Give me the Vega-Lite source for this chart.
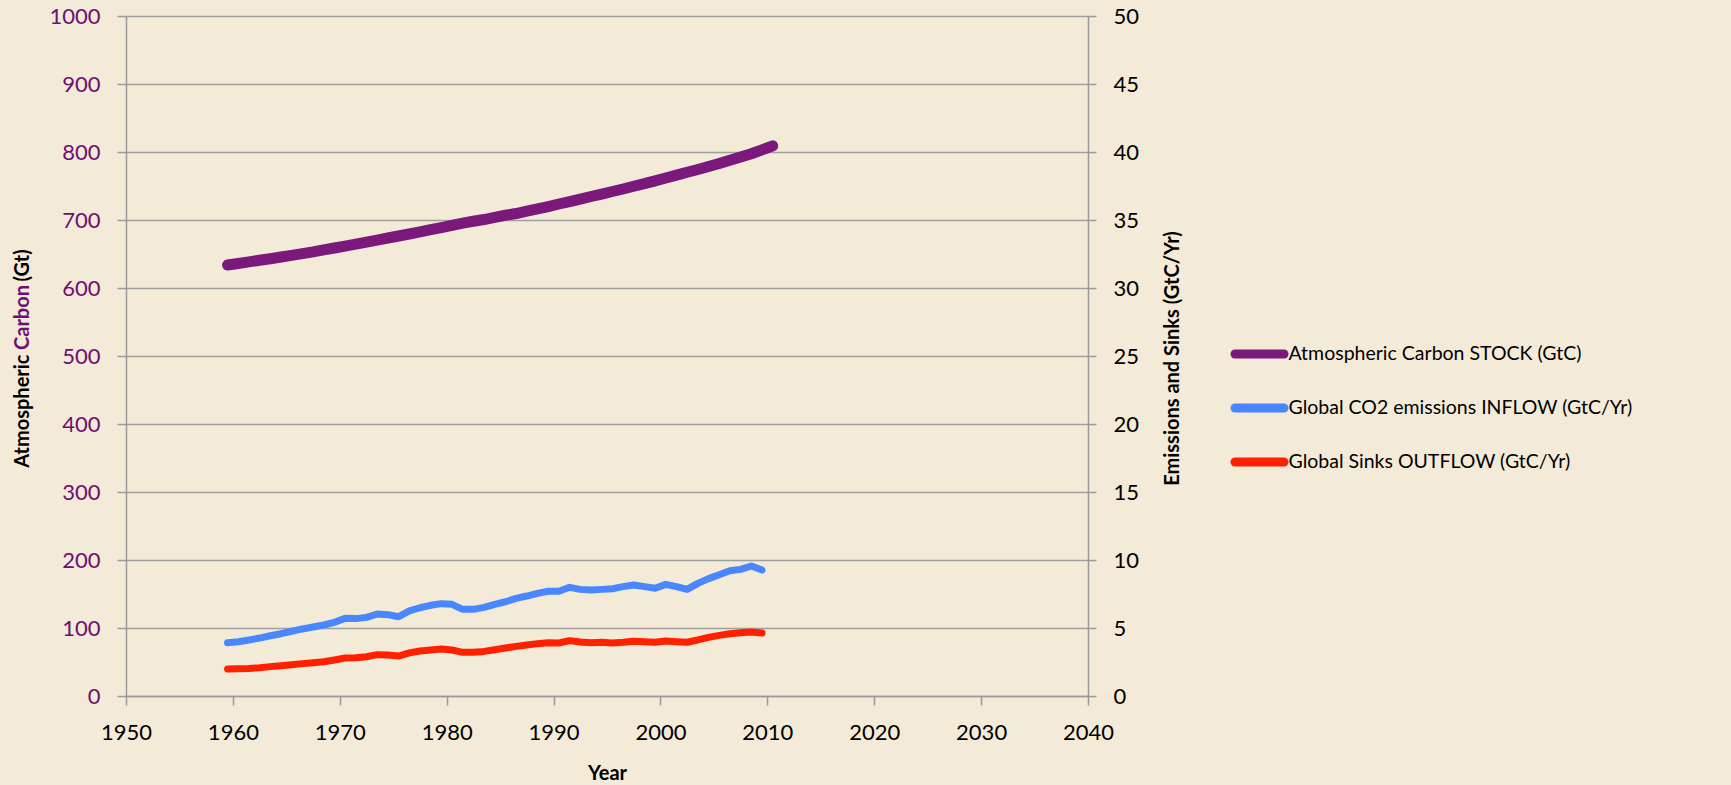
{
  "$schema": "https://vega.github.io/schema/vega-lite/v6.json",
  "width": 962,
  "height": 680,
  "autosize": "none",
  "padding": {"left": 126, "top": 16, "right": 643, "bottom": 89},
  "background": "#f3ead7",
  "config": {"view": {"stroke": null}, "font": "Lato"},
  "datasets": {
    "flows": [
      {"Year": 1959.5, "series": "Global CO2 emissions INFLOW (GtC/Yr)", "value": 3.92},
      {"Year": 1960.5, "series": "Global CO2 emissions INFLOW (GtC/Yr)", "value": 3.99},
      {"Year": 1961.5, "series": "Global CO2 emissions INFLOW (GtC/Yr)", "value": 4.12},
      {"Year": 1962.5, "series": "Global CO2 emissions INFLOW (GtC/Yr)", "value": 4.26},
      {"Year": 1963.5, "series": "Global CO2 emissions INFLOW (GtC/Yr)", "value": 4.43},
      {"Year": 1964.5, "series": "Global CO2 emissions INFLOW (GtC/Yr)", "value": 4.58},
      {"Year": 1965.5, "series": "Global CO2 emissions INFLOW (GtC/Yr)", "value": 4.76},
      {"Year": 1966.5, "series": "Global CO2 emissions INFLOW (GtC/Yr)", "value": 4.93},
      {"Year": 1967.5, "series": "Global CO2 emissions INFLOW (GtC/Yr)", "value": 5.07},
      {"Year": 1968.5, "series": "Global CO2 emissions INFLOW (GtC/Yr)", "value": 5.22},
      {"Year": 1969.5, "series": "Global CO2 emissions INFLOW (GtC/Yr)", "value": 5.42},
      {"Year": 1970.5, "series": "Global CO2 emissions INFLOW (GtC/Yr)", "value": 5.71},
      {"Year": 1971.5, "series": "Global CO2 emissions INFLOW (GtC/Yr)", "value": 5.69},
      {"Year": 1972.5, "series": "Global CO2 emissions INFLOW (GtC/Yr)", "value": 5.78},
      {"Year": 1973.5, "series": "Global CO2 emissions INFLOW (GtC/Yr)", "value": 6.03},
      {"Year": 1974.5, "series": "Global CO2 emissions INFLOW (GtC/Yr)", "value": 5.98},
      {"Year": 1975.5, "series": "Global CO2 emissions INFLOW (GtC/Yr)", "value": 5.83},
      {"Year": 1976.5, "series": "Global CO2 emissions INFLOW (GtC/Yr)", "value": 6.26},
      {"Year": 1977.5, "series": "Global CO2 emissions INFLOW (GtC/Yr)", "value": 6.49},
      {"Year": 1978.5, "series": "Global CO2 emissions INFLOW (GtC/Yr)", "value": 6.67},
      {"Year": 1979.5, "series": "Global CO2 emissions INFLOW (GtC/Yr)", "value": 6.79},
      {"Year": 1980.5, "series": "Global CO2 emissions INFLOW (GtC/Yr)", "value": 6.74},
      {"Year": 1981.5, "series": "Global CO2 emissions INFLOW (GtC/Yr)", "value": 6.37},
      {"Year": 1982.5, "series": "Global CO2 emissions INFLOW (GtC/Yr)", "value": 6.37},
      {"Year": 1983.5, "series": "Global CO2 emissions INFLOW (GtC/Yr)", "value": 6.52},
      {"Year": 1984.5, "series": "Global CO2 emissions INFLOW (GtC/Yr)", "value": 6.74},
      {"Year": 1985.5, "series": "Global CO2 emissions INFLOW (GtC/Yr)", "value": 6.93},
      {"Year": 1986.5, "series": "Global CO2 emissions INFLOW (GtC/Yr)", "value": 7.18},
      {"Year": 1987.5, "series": "Global CO2 emissions INFLOW (GtC/Yr)", "value": 7.35},
      {"Year": 1988.5, "series": "Global CO2 emissions INFLOW (GtC/Yr)", "value": 7.55},
      {"Year": 1989.5, "series": "Global CO2 emissions INFLOW (GtC/Yr)", "value": 7.70},
      {"Year": 1990.5, "series": "Global CO2 emissions INFLOW (GtC/Yr)", "value": 7.70},
      {"Year": 1991.5, "series": "Global CO2 emissions INFLOW (GtC/Yr)", "value": 7.99},
      {"Year": 1992.5, "series": "Global CO2 emissions INFLOW (GtC/Yr)", "value": 7.84},
      {"Year": 1993.5, "series": "Global CO2 emissions INFLOW (GtC/Yr)", "value": 7.79},
      {"Year": 1994.5, "series": "Global CO2 emissions INFLOW (GtC/Yr)", "value": 7.84},
      {"Year": 1995.5, "series": "Global CO2 emissions INFLOW (GtC/Yr)", "value": 7.89},
      {"Year": 1996.5, "series": "Global CO2 emissions INFLOW (GtC/Yr)", "value": 8.04},
      {"Year": 1997.5, "series": "Global CO2 emissions INFLOW (GtC/Yr)", "value": 8.16},
      {"Year": 1998.5, "series": "Global CO2 emissions INFLOW (GtC/Yr)", "value": 8.04},
      {"Year": 1999.5, "series": "Global CO2 emissions INFLOW (GtC/Yr)", "value": 7.92},
      {"Year": 2000.5, "series": "Global CO2 emissions INFLOW (GtC/Yr)", "value": 8.21},
      {"Year": 2001.5, "series": "Global CO2 emissions INFLOW (GtC/Yr)", "value": 8.04},
      {"Year": 2002.5, "series": "Global CO2 emissions INFLOW (GtC/Yr)", "value": 7.84},
      {"Year": 2003.5, "series": "Global CO2 emissions INFLOW (GtC/Yr)", "value": 8.28},
      {"Year": 2004.5, "series": "Global CO2 emissions INFLOW (GtC/Yr)", "value": 8.63},
      {"Year": 2005.5, "series": "Global CO2 emissions INFLOW (GtC/Yr)", "value": 8.92},
      {"Year": 2006.5, "series": "Global CO2 emissions INFLOW (GtC/Yr)", "value": 9.21},
      {"Year": 2007.5, "series": "Global CO2 emissions INFLOW (GtC/Yr)", "value": 9.31},
      {"Year": 2008.5, "series": "Global CO2 emissions INFLOW (GtC/Yr)", "value": 9.56},
      {"Year": 2009.5, "series": "Global CO2 emissions INFLOW (GtC/Yr)", "value": 9.26},
      {"Year": 1959.5, "series": "Global Sinks OUTFLOW (GtC/Yr)", "value": 1.99},
      {"Year": 1960.5, "series": "Global Sinks OUTFLOW (GtC/Yr)", "value": 2.01},
      {"Year": 1961.5, "series": "Global Sinks OUTFLOW (GtC/Yr)", "value": 2.03},
      {"Year": 1962.5, "series": "Global Sinks OUTFLOW (GtC/Yr)", "value": 2.08},
      {"Year": 1963.5, "series": "Global Sinks OUTFLOW (GtC/Yr)", "value": 2.16},
      {"Year": 1964.5, "series": "Global Sinks OUTFLOW (GtC/Yr)", "value": 2.23},
      {"Year": 1965.5, "series": "Global Sinks OUTFLOW (GtC/Yr)", "value": 2.30},
      {"Year": 1966.5, "series": "Global Sinks OUTFLOW (GtC/Yr)", "value": 2.38},
      {"Year": 1967.5, "series": "Global Sinks OUTFLOW (GtC/Yr)", "value": 2.45},
      {"Year": 1968.5, "series": "Global Sinks OUTFLOW (GtC/Yr)", "value": 2.52},
      {"Year": 1969.5, "series": "Global Sinks OUTFLOW (GtC/Yr)", "value": 2.65},
      {"Year": 1970.5, "series": "Global Sinks OUTFLOW (GtC/Yr)", "value": 2.79},
      {"Year": 1971.5, "series": "Global Sinks OUTFLOW (GtC/Yr)", "value": 2.82},
      {"Year": 1972.5, "series": "Global Sinks OUTFLOW (GtC/Yr)", "value": 2.89},
      {"Year": 1973.5, "series": "Global Sinks OUTFLOW (GtC/Yr)", "value": 3.04},
      {"Year": 1974.5, "series": "Global Sinks OUTFLOW (GtC/Yr)", "value": 3.01},
      {"Year": 1975.5, "series": "Global Sinks OUTFLOW (GtC/Yr)", "value": 2.94},
      {"Year": 1976.5, "series": "Global Sinks OUTFLOW (GtC/Yr)", "value": 3.17},
      {"Year": 1977.5, "series": "Global Sinks OUTFLOW (GtC/Yr)", "value": 3.31},
      {"Year": 1978.5, "series": "Global Sinks OUTFLOW (GtC/Yr)", "value": 3.38},
      {"Year": 1979.5, "series": "Global Sinks OUTFLOW (GtC/Yr)", "value": 3.46},
      {"Year": 1980.5, "series": "Global Sinks OUTFLOW (GtC/Yr)", "value": 3.38},
      {"Year": 1981.5, "series": "Global Sinks OUTFLOW (GtC/Yr)", "value": 3.21},
      {"Year": 1982.5, "series": "Global Sinks OUTFLOW (GtC/Yr)", "value": 3.21},
      {"Year": 1983.5, "series": "Global Sinks OUTFLOW (GtC/Yr)", "value": 3.28},
      {"Year": 1984.5, "series": "Global Sinks OUTFLOW (GtC/Yr)", "value": 3.40},
      {"Year": 1985.5, "series": "Global Sinks OUTFLOW (GtC/Yr)", "value": 3.53},
      {"Year": 1986.5, "series": "Global Sinks OUTFLOW (GtC/Yr)", "value": 3.65},
      {"Year": 1987.5, "series": "Global Sinks OUTFLOW (GtC/Yr)", "value": 3.75},
      {"Year": 1988.5, "series": "Global Sinks OUTFLOW (GtC/Yr)", "value": 3.85},
      {"Year": 1989.5, "series": "Global Sinks OUTFLOW (GtC/Yr)", "value": 3.92},
      {"Year": 1990.5, "series": "Global Sinks OUTFLOW (GtC/Yr)", "value": 3.90},
      {"Year": 1991.5, "series": "Global Sinks OUTFLOW (GtC/Yr)", "value": 4.07},
      {"Year": 1992.5, "series": "Global Sinks OUTFLOW (GtC/Yr)", "value": 3.97},
      {"Year": 1993.5, "series": "Global Sinks OUTFLOW (GtC/Yr)", "value": 3.92},
      {"Year": 1994.5, "series": "Global Sinks OUTFLOW (GtC/Yr)", "value": 3.95},
      {"Year": 1995.5, "series": "Global Sinks OUTFLOW (GtC/Yr)", "value": 3.90},
      {"Year": 1996.5, "series": "Global Sinks OUTFLOW (GtC/Yr)", "value": 3.95},
      {"Year": 1997.5, "series": "Global Sinks OUTFLOW (GtC/Yr)", "value": 4.02},
      {"Year": 1998.5, "series": "Global Sinks OUTFLOW (GtC/Yr)", "value": 3.99},
      {"Year": 1999.5, "series": "Global Sinks OUTFLOW (GtC/Yr)", "value": 3.95},
      {"Year": 2000.5, "series": "Global Sinks OUTFLOW (GtC/Yr)", "value": 4.04},
      {"Year": 2001.5, "series": "Global Sinks OUTFLOW (GtC/Yr)", "value": 3.99},
      {"Year": 2002.5, "series": "Global Sinks OUTFLOW (GtC/Yr)", "value": 3.95},
      {"Year": 2003.5, "series": "Global Sinks OUTFLOW (GtC/Yr)", "value": 4.12},
      {"Year": 2004.5, "series": "Global Sinks OUTFLOW (GtC/Yr)", "value": 4.31},
      {"Year": 2005.5, "series": "Global Sinks OUTFLOW (GtC/Yr)", "value": 4.46},
      {"Year": 2006.5, "series": "Global Sinks OUTFLOW (GtC/Yr)", "value": 4.58},
      {"Year": 2007.5, "series": "Global Sinks OUTFLOW (GtC/Yr)", "value": 4.65},
      {"Year": 2008.5, "series": "Global Sinks OUTFLOW (GtC/Yr)", "value": 4.71},
      {"Year": 2009.5, "series": "Global Sinks OUTFLOW (GtC/Yr)", "value": 4.63}
    ],
    "stock": [
      {"Year": 1959.5, "series": "Atmospheric Carbon STOCK (GtC)", "value": 633.8},
      {"Year": 1960.5, "series": "Atmospheric Carbon STOCK (GtC)", "value": 636.0},
      {"Year": 1961.5, "series": "Atmospheric Carbon STOCK (GtC)", "value": 638.4},
      {"Year": 1962.5, "series": "Atmospheric Carbon STOCK (GtC)", "value": 640.8},
      {"Year": 1963.5, "series": "Atmospheric Carbon STOCK (GtC)", "value": 643.1},
      {"Year": 1964.5, "series": "Atmospheric Carbon STOCK (GtC)", "value": 645.6},
      {"Year": 1965.5, "series": "Atmospheric Carbon STOCK (GtC)", "value": 648.0},
      {"Year": 1966.5, "series": "Atmospheric Carbon STOCK (GtC)", "value": 650.6},
      {"Year": 1967.5, "series": "Atmospheric Carbon STOCK (GtC)", "value": 653.1},
      {"Year": 1968.5, "series": "Atmospheric Carbon STOCK (GtC)", "value": 656.0},
      {"Year": 1969.5, "series": "Atmospheric Carbon STOCK (GtC)", "value": 658.8},
      {"Year": 1970.5, "series": "Atmospheric Carbon STOCK (GtC)", "value": 661.7},
      {"Year": 1971.5, "series": "Atmospheric Carbon STOCK (GtC)", "value": 664.6},
      {"Year": 1972.5, "series": "Atmospheric Carbon STOCK (GtC)", "value": 667.5},
      {"Year": 1973.5, "series": "Atmospheric Carbon STOCK (GtC)", "value": 670.5},
      {"Year": 1974.5, "series": "Atmospheric Carbon STOCK (GtC)", "value": 673.5},
      {"Year": 1975.5, "series": "Atmospheric Carbon STOCK (GtC)", "value": 676.5},
      {"Year": 1976.5, "series": "Atmospheric Carbon STOCK (GtC)", "value": 679.4},
      {"Year": 1977.5, "series": "Atmospheric Carbon STOCK (GtC)", "value": 682.5},
      {"Year": 1978.5, "series": "Atmospheric Carbon STOCK (GtC)", "value": 685.7},
      {"Year": 1979.5, "series": "Atmospheric Carbon STOCK (GtC)", "value": 688.9},
      {"Year": 1980.5, "series": "Atmospheric Carbon STOCK (GtC)", "value": 692.2},
      {"Year": 1981.5, "series": "Atmospheric Carbon STOCK (GtC)", "value": 695.4},
      {"Year": 1982.5, "series": "Atmospheric Carbon STOCK (GtC)", "value": 698.1},
      {"Year": 1983.5, "series": "Atmospheric Carbon STOCK (GtC)", "value": 700.7},
      {"Year": 1984.5, "series": "Atmospheric Carbon STOCK (GtC)", "value": 703.8},
      {"Year": 1985.5, "series": "Atmospheric Carbon STOCK (GtC)", "value": 707.0},
      {"Year": 1986.5, "series": "Atmospheric Carbon STOCK (GtC)", "value": 709.5},
      {"Year": 1987.5, "series": "Atmospheric Carbon STOCK (GtC)", "value": 712.9},
      {"Year": 1988.5, "series": "Atmospheric Carbon STOCK (GtC)", "value": 716.3},
      {"Year": 1989.5, "series": "Atmospheric Carbon STOCK (GtC)", "value": 719.8},
      {"Year": 1990.5, "series": "Atmospheric Carbon STOCK (GtC)", "value": 723.5},
      {"Year": 1991.5, "series": "Atmospheric Carbon STOCK (GtC)", "value": 727.1},
      {"Year": 1992.5, "series": "Atmospheric Carbon STOCK (GtC)", "value": 730.8},
      {"Year": 1993.5, "series": "Atmospheric Carbon STOCK (GtC)", "value": 734.6},
      {"Year": 1994.5, "series": "Atmospheric Carbon STOCK (GtC)", "value": 738.2},
      {"Year": 1995.5, "series": "Atmospheric Carbon STOCK (GtC)", "value": 741.9},
      {"Year": 1996.5, "series": "Atmospheric Carbon STOCK (GtC)", "value": 745.6},
      {"Year": 1997.5, "series": "Atmospheric Carbon STOCK (GtC)", "value": 749.6},
      {"Year": 1998.5, "series": "Atmospheric Carbon STOCK (GtC)", "value": 753.6},
      {"Year": 1999.5, "series": "Atmospheric Carbon STOCK (GtC)", "value": 757.6},
      {"Year": 2000.5, "series": "Atmospheric Carbon STOCK (GtC)", "value": 761.7},
      {"Year": 2001.5, "series": "Atmospheric Carbon STOCK (GtC)", "value": 766.0},
      {"Year": 2002.5, "series": "Atmospheric Carbon STOCK (GtC)", "value": 770.2},
      {"Year": 2003.5, "series": "Atmospheric Carbon STOCK (GtC)", "value": 774.3},
      {"Year": 2004.5, "series": "Atmospheric Carbon STOCK (GtC)", "value": 778.6},
      {"Year": 2005.5, "series": "Atmospheric Carbon STOCK (GtC)", "value": 783.0},
      {"Year": 2006.5, "series": "Atmospheric Carbon STOCK (GtC)", "value": 787.8},
      {"Year": 2007.5, "series": "Atmospheric Carbon STOCK (GtC)", "value": 792.6},
      {"Year": 2008.5, "series": "Atmospheric Carbon STOCK (GtC)", "value": 797.5},
      {"Year": 2009.5, "series": "Atmospheric Carbon STOCK (GtC)", "value": 803.1},
      {"Year": 2010.5, "series": "Atmospheric Carbon STOCK (GtC)", "value": 809.0}
    ]
  },
  "layer": [
    {
      "data": {"name": "stock"},
      "mark": {"type": "line", "strokeWidth": 11, "strokeCap": "round", "strokeJoin": "round"},
      "encoding": {
        "x": {
          "field": "Year", "type": "quantitative",
          "scale": {"domain": [1950, 2040], "nice": false, "zero": false},
          "axis": {
            "orient": "bottom", "values": [1950, 1960, 1970, 1980, 1990, 2000, 2010, 2020, 2030, 2040],
            "format": "d", "grid": false, "labelFont": "Lato", "labelFontSize": 22, "labelColor": "black",
            "labelPadding": 17, "tickSize": 9, "tickColor": "#9a9a9a", "tickWidth": 1.5,
            "domainColor": "#9a9a9a", "domainWidth": 1.5, "labelFlush": false, "labelOverlap": false,
            "title": "Year", "titleFont": "Lato", "titleFontSize": 20, "titleFontWeight": "bold",
            "titleColor": "black", "titlePadding": 20
          }
        },
        "y": {
          "field": "value", "type": "quantitative",
          "scale": {"domain": [0, 1000], "nice": false},
          "axis": {
            "orient": "left", "values": [0, 100, 200, 300, 400, 500, 600, 700, 800, 900, 1000],
            "format": "d",
            "grid": true, "gridColor": "#a0a0a0", "gridWidth": 1.5,
            "labelFont": "Lato", "labelFontSize": 22, "labelColor": "#6e0f72", "labelPadding": 17,
            "tickSize": 9, "tickColor": "#9a9a9a", "tickWidth": 1.5,
            "domainColor": "#9a9a9a", "domainWidth": 1.5,
            "title": "Atmospheric", "titleFont": "Lato", "titleFontSize": 20, "titleFontWeight": "bold",
            "titleColor": "black", "titleAngle": -90, "titleAlign": "right", "titleBaseline": "middle",
            "titleX": -104, "titleY": 338
          }
        },
        "color": {
          "field": "series", "type": "nominal",
          "scale": {
            "domain": ["Atmospheric Carbon STOCK (GtC)", "Global CO2 emissions INFLOW (GtC/Yr)", "Global Sinks OUTFLOW (GtC/Yr)"],
            "range": ["#7a187c", "#4a86ff", "#ff2000"]
          },
          "legend": {
            "orient": "none", "legendX": 1104.5, "legendY": 309, "title": null, "padding": 0,
            "symbolType": "stroke", "symbolSize": 2401, "symbolStrokeWidth": 9,
            "labelFont": "Lato", "labelFontSize": 19.5, "labelColor": "black", "labelOffset": 0,
            "rowPadding": 7, "labelLimit": 600,
            "encode": {"symbols": {"update": {"strokeCap": {"value": "round"}}}}
          }
        }
      }
    },
    {
      "data": {"name": "flows"},
      "mark": {"type": "line", "strokeWidth": 7, "strokeCap": "round", "strokeJoin": "round"},
      "encoding": {
        "x": {"field": "Year", "type": "quantitative", "scale": {"domain": [1950, 2040], "nice": false, "zero": false}},
        "y": {
          "field": "value", "type": "quantitative",
          "scale": {"domain": [0, 50], "nice": false},
          "axis": {
            "orient": "right", "values": [0, 5, 10, 15, 20, 25, 30, 35, 40, 45, 50],
            "grid": false, "labelFont": "Lato", "labelFontSize": 22, "labelColor": "black", "labelPadding": 17,
            "tickSize": 8, "tickColor": "#9a9a9a", "tickWidth": 1.5,
            "domainColor": "#9a9a9a", "domainWidth": 1.5,
            "title": "Emissions and Sinks (GtC/Yr)", "titleFont": "Lato", "titleFontSize": 20, "titleFontWeight": "bold",
            "titleColor": "black", "titleAngle": -90, "titleAlign": "center", "titleBaseline": "middle",
            "titleX": 84, "titleY": 342
          }
        },
        "color": {"field": "series", "type": "nominal"}
      }
    },
    {
      "data": {"name": "stock"},
      "mark": {"type": "line", "opacity": 0},
      "encoding": {
        "x": {"field": "Year", "type": "quantitative", "scale": {"domain": [1950, 2040], "nice": false, "zero": false}},
        "y": {
          "field": "value", "type": "quantitative",
          "scale": {"domain": [0, 1000], "nice": false},
          "axis": {
            "orient": "left", "labels": false, "ticks": false, "domain": false, "grid": false,
            "title": "Carbon", "titleFont": "Lato", "titleFontSize": 20, "titleFontWeight": "bold",
            "titleColor": "#6e0f72", "titleAngle": -90, "titleAlign": "center", "titleBaseline": "middle",
            "titleX": -104, "titleY": 301
          }
        }
      }
    },
    {
      "data": {"name": "stock"},
      "mark": {"type": "line", "opacity": 0},
      "encoding": {
        "x": {"field": "Year", "type": "quantitative", "scale": {"domain": [1950, 2040], "nice": false, "zero": false}},
        "y": {
          "field": "value", "type": "quantitative",
          "scale": {"domain": [0, 1000], "nice": false},
          "axis": {
            "orient": "left", "labels": false, "ticks": false, "domain": false, "grid": false,
            "title": "(Gt)", "titleFont": "Lato", "titleFontSize": 20, "titleFontWeight": "bold",
            "titleColor": "black", "titleAngle": -90, "titleAlign": "left", "titleBaseline": "middle",
            "titleX": -104, "titleY": 265
          }
        }
      }
    }
  ],
  "resolve": {"scale": {"y": "independent"}}
}
